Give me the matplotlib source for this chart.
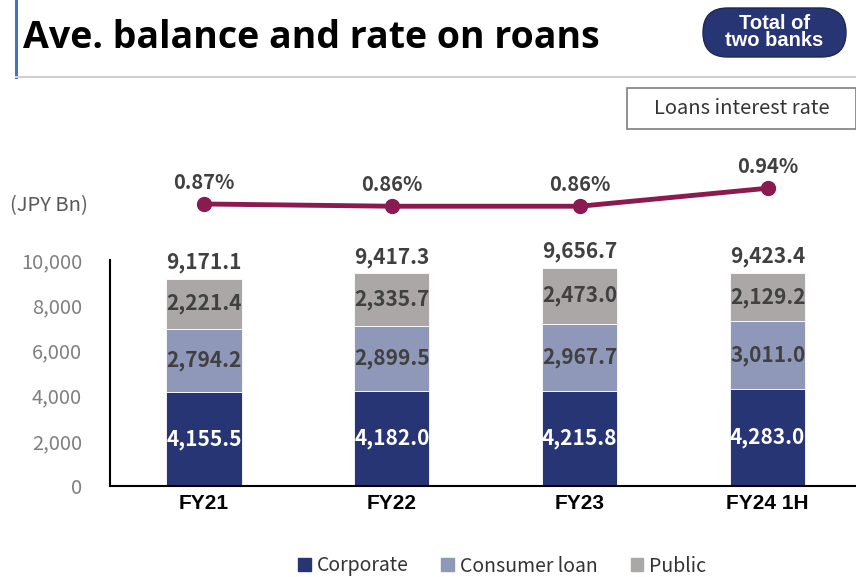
import matplotlib
matplotlib.use("Agg")
import matplotlib.pyplot as plt
from matplotlib.patches import FancyBboxPatch, Rectangle
from matplotlib.lines import Line2D
from matplotlib.transforms import IdentityTransform

categories = ["FY21", "FY22", "FY23", "FY24 1H"]
corporate = [4155.5, 4182.0, 4215.8, 4283.0]
consumer = [2794.2, 2899.5, 2967.7, 3011.0]
public = [2221.4, 2335.7, 2473.0, 2129.2]
totals = [9171.1, 9417.3, 9656.7, 9423.4]
rates = [0.87, 0.86, 0.86, 0.94]
yticks = [0, 2000, 4000, 6000, 8000, 10000]

C_CORP = "#273574"
C_CONS = "#9098BA"
C_PUB = "#ABA7A7"
C_LINE = "#8A1A50"
TXT = "#404040"
FONT = ["Noto Sans CJK JP", "DejaVu Sans"]

plt.rcParams["font.family"] = FONT

W, H = 856, 577
fig = plt.figure(figsize=(W / 100, H / 100), dpi=100)

def fx(px):
    return px / W

def fy(py):
    return 1 - py / H

# Header decorations
fig.add_artist(Line2D([fx(16), fx(16)], [fy(0), fy(77)], color="#4472C4", lw=2.2))
fig.add_artist(Line2D([fx(16), fx(856)], [fy(77), fy(77)], color="#D0D0D0", lw=1.5))
fig.text(fx(23), fy(38), "Ave. balance and rate on roans", fontsize=27, fontweight="bold",
         family=["Open Sans", "DejaVu Sans"], va="center", ha="left", color="black")
badge = FancyBboxPatch((703, H - 57), 143, 49,
                       boxstyle="round,pad=0,rounding_size=24.5",
                       transform=IdentityTransform(), facecolor=C_CORP, edgecolor="#1B2755", lw=1)
fig.add_artist(badge)
fig.text(fx(774.5), fy(32), "Total of\ntwo banks", fontsize=14.5, fontweight="bold",
         family=["Liberation Sans", "DejaVu Sans"],
         color="white", ha="center", va="center", linespacing=0.85)

# Loans interest rate box
fig.add_artist(Rectangle((fx(627), fy(129)), fx(856) - fx(627), fy(88) - fy(129),
                         transform=fig.transFigure, facecolor="white", edgecolor="#7F7F7F", lw=1.2))
fig.text(fx(742), fy(108), "Loans interest rate", fontsize=14.5, color="#333333",
         ha="center", va="center")

fig.text(fx(10), fy(206), "(JPY Bn)", fontsize=14.5, color="#595959", ha="left", va="center")

# Main bar axes
ax = fig.add_axes([fx(110), fy(486), fx(856) - fx(110), fy(260) - fy(486)])
x = list(range(len(categories)))
bw = 0.4
ax.bar(x, corporate, bw, color=C_CORP, edgecolor="white", linewidth=0.6, label="Corporate")
ax.bar(x, consumer, bw, bottom=corporate, color=C_CONS, edgecolor="white", linewidth=0.6,
       label="Consumer loan")
bottoms2 = [a + b for a, b in zip(corporate, consumer)]
ax.bar(x, public, bw, bottom=bottoms2, color=C_PUB, edgecolor="white", linewidth=0.6,
       label="Public")
ax.set_xlim(-0.5, 3.47)
ax.set_ylim(0, 10000)
ax.set_yticks(yticks)
ax.set_yticklabels([f"{v:,}" for v in yticks], color="#7F7F7F", fontsize=14.5)
ax.set_xticks(x)
ax.set_xticklabels(categories, fontsize=15, fontweight="bold", color="black",
                   family=["Liberation Sans", "DejaVu Sans"])
ax.tick_params(axis="both", length=0)
ax.tick_params(axis="y", pad=20)
ax.tick_params(axis="x", pad=6)
for s in ["top", "right"]:
    ax.spines[s].set_visible(False)
ax.spines["left"].set_linewidth(1.5)
ax.spines["bottom"].set_linewidth(1.5)

for i in x:
    ax.text(i, corporate[i] / 2, f"{corporate[i]:,.1f}", ha="center", va="center",
            color="white", fontsize=15, fontweight="bold")
    ax.text(i, corporate[i] + consumer[i] / 2, f"{consumer[i]:,.1f}", ha="center", va="center",
            color=TXT, fontsize=15, fontweight="bold")
    ax.text(i, bottoms2[i] + public[i] / 2, f"{public[i]:,.1f}", ha="center", va="center",
            color=TXT, fontsize=15, fontweight="bold")
    ax.text(i, totals[i] + 250, f"{totals[i]:,.1f}", ha="center", va="bottom",
            color=TXT, fontsize=15, fontweight="bold")

# Line axes
lax = fig.add_axes([fx(110), fy(230), fx(856) - fx(110), fy(170) - fy(230)])
lax.set_xlim(-0.5, 3.47)
lax.set_ylim(0.7544, 1.021)
lax.axis("off")
lax.plot(x, rates, color=C_LINE, lw=3.5, marker="o", markersize=10, clip_on=False)
for i in x:
    lax.annotate(f"{rates[i]:.2f}%", (i, rates[i]), xytext=(0, 8), textcoords="offset points",
                 ha="center", va="bottom", fontsize=14.5, fontweight="bold", color=TXT)

# Legend
handles = [Rectangle((0, 0), 1, 1, color=c) for c in (C_CORP, C_CONS, C_PUB)]
fig.legend(handles, ["Corporate", "Consumer loan", "Public"], loc="center",
           bbox_to_anchor=(fx(502), fy(566)), ncol=3, frameon=False, fontsize=14,
           handlelength=0.65, handleheight=0.65, handletextpad=0.3, columnspacing=1.7,
           labelcolor="#333333")

fig.savefig("out.png", dpi=100)
